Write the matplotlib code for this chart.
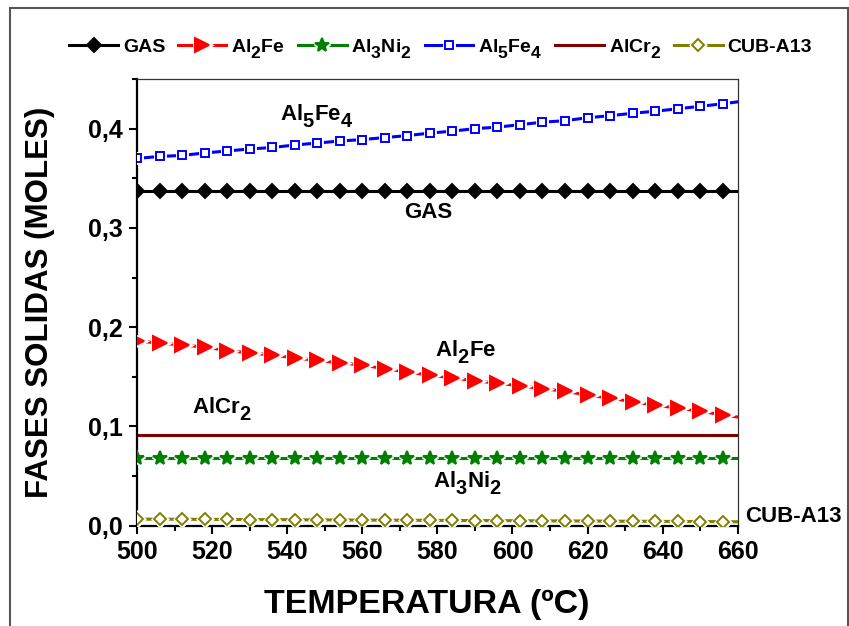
import matplotlib
matplotlib.use("Agg")
import matplotlib.pyplot as plt
import matplotlib._mathtext as mathtext_core
from matplotlib.ticker import MultipleLocator, FuncFormatter
from matplotlib.patches import Rectangle

plt.rcParams['font.family'] = ['Liberation Sans', 'DejaVu Sans']
plt.rcParams['font.weight'] = 'bold'
plt.rcParams['mathtext.fontset'] = 'custom'
plt.rcParams['mathtext.rm'] = 'Liberation Sans:bold'
plt.rcParams['mathtext.it'] = 'Liberation Sans:bold'
plt.rcParams['mathtext.bf'] = 'Liberation Sans:bold'
# near full-size, well dropped subscripts for the formula labels
mathtext_core.SHRINK_FACTOR = 0.9
mathtext_core.FontConstantsBase.sub1 = 0.6

# temperatures (C); every 6 degrees plus the end point
temps = [500, 506, 512, 518, 524, 530, 536, 542, 548, 554, 560, 566, 572, 578,
         584, 590, 596, 602, 608, 614, 620, 626, 632, 638, 644, 650, 656, 660]

gas = [0.337, 0.337, 0.337, 0.337, 0.337, 0.337, 0.337, 0.337, 0.337, 0.337,
       0.337, 0.337, 0.337, 0.337, 0.337, 0.337, 0.337, 0.337, 0.337, 0.337,
       0.337, 0.337, 0.337, 0.337, 0.337, 0.337, 0.337, 0.337]
al2fe = [0.186, 0.184, 0.182, 0.180, 0.1765, 0.174, 0.172, 0.169, 0.1665, 0.164,
         0.162, 0.158, 0.155, 0.1515, 0.149, 0.146, 0.1435, 0.141, 0.138, 0.1355,
         0.1315, 0.1285, 0.125, 0.1215, 0.1185, 0.1155, 0.1115, 0.1095]
al3ni2 = [0.068, 0.068, 0.068, 0.068, 0.068, 0.068, 0.068, 0.068, 0.068, 0.068,
          0.068, 0.068, 0.068, 0.068, 0.068, 0.068, 0.068, 0.068, 0.068, 0.068,
          0.068, 0.068, 0.068, 0.068, 0.068, 0.068, 0.068, 0.068]
al5fe4 = [0.370, 0.372, 0.373, 0.3755, 0.3775, 0.3795, 0.381, 0.3835, 0.3855, 0.3875,
          0.389, 0.391, 0.393, 0.3955, 0.3975, 0.400, 0.4015, 0.404, 0.4065, 0.408,
          0.411, 0.413, 0.4155, 0.4175, 0.420, 0.4225, 0.425, 0.427]
alcr2 = [0.091, 0.091, 0.091, 0.091, 0.091, 0.091, 0.091, 0.091, 0.091, 0.091,
         0.091, 0.091, 0.091, 0.091, 0.091, 0.091, 0.091, 0.091, 0.091, 0.091,
         0.091, 0.091, 0.091, 0.091, 0.091, 0.091, 0.091, 0.091]
cub = [0.0066, 0.0066, 0.0065, 0.0064, 0.0063, 0.0062, 0.0061, 0.0060, 0.0059, 0.0058,
       0.0057, 0.0056, 0.0055, 0.0054, 0.0053, 0.0052, 0.0051, 0.0050, 0.0049, 0.0048,
       0.0047, 0.0046, 0.0045, 0.0044, 0.0043, 0.0042, 0.0041, 0.0040]

fig = plt.figure(figsize=(8.49, 6.26), dpi=100)
ax = fig.add_axes([0.1614, 0.1602, 0.7075, 0.7136])

marks = slice(0, 27)   # no marker on the 660 end point


def series(y, color, marker, ms, mfc, gap=True):
    line, = ax.plot(temps, y, color=color, lw=2.2, zorder=2)
    parts = [line]
    if marker is None:
        return tuple(parts)
    if gap:
        halo, = ax.plot(temps, y, ls='none', marker=marker, ms=ms, markevery=marks,
                        mfc='white', mec='white', mew=3.5, zorder=3)
        parts.append(halo)
    mk, = ax.plot(temps, y, ls='none', marker=marker, ms=ms, markevery=marks,
                  mfc=mfc, mec=color, mew=1.4, zorder=4)
    parts.append(mk)
    return tuple(parts)


h_gas = series(gas, 'black', 'D', 7, 'black', gap=False)
h_al2fe = series(al2fe, 'red', '>', 9.5, 'red')
h_al3ni2 = series(al3ni2, 'green', '*', 10, 'green')
h_al5fe4 = series(al5fe4, 'blue', 's', 6, 'white')
h_alcr2 = series(alcr2, '#800000', None, 0, None)
h_cub = series(cub, '#808000', 'D', 6, 'white')

ax.set_xlim(500, 660)
ax.set_ylim(0, 0.45)
ax.xaxis.set_major_locator(MultipleLocator(20))
ax.xaxis.set_minor_locator(MultipleLocator(10))
ax.yaxis.set_major_locator(MultipleLocator(0.1))
ax.yaxis.set_minor_locator(MultipleLocator(0.05))
ax.yaxis.set_major_formatter(FuncFormatter(lambda v, p: ('%.1f' % v).replace('.', ',')))

ax.tick_params(which='both', direction='out', top=False, right=False, width=1.5,
               labelsize=18)
ax.tick_params(which='major', length=6, pad=4)
ax.tick_params(which='minor', length=3.5)
for s in ['left', 'bottom']:
    ax.spines[s].set_linewidth(1.6)
for s in ['top', 'right']:
    ax.spines[s].set_linewidth(0.9)
    ax.spines[s].set_color('#333333')

ax.set_xlabel('TEMPERATURA (ºC)', fontsize=24.5, fontweight='bold')
ax.set_ylabel('FASES SOLIDAS (MOLES)', fontsize=22.5, fontweight='bold')
ax.xaxis.set_label_coords(0.483, -0.142)
ax.yaxis.set_label_coords(-0.137, 0.5)

# curve labels
lab = dict(fontsize=16, ha='center', va='center')
ax.text(548, 0.412, 'Al$_5$Fe$_4$', **lab)
ax.text(577.5, 0.316, 'GAS', **lab)
ax.text(587.5, 0.175, 'Al$_2$Fe', **lab)
ax.text(522.5, 0.117, 'AlCr$_2$', **lab)
ax.text(588, 0.043, 'Al$_3$Ni$_2$', **lab)
ax.text(662, 0.009, 'CUB-A13', fontsize=16, ha='left', va='center', clip_on=False)

fig.legend([h_gas, h_al2fe, h_al3ni2, h_al5fe4, h_alcr2, h_cub],
           ['GAS', 'Al$_2$Fe', 'Al$_3$Ni$_2$', 'Al$_5$Fe$_4$', 'AlCr$_2$', 'CUB-A13'],
           loc='center', bbox_to_anchor=(0.519, 0.923), ncol=6, frameon=False,
           fontsize=14, handlelength=2.5, handletextpad=0.25, columnspacing=0.65,
           borderaxespad=0)

# outer frame
fig.patches.append(Rectangle((10 / 849, -0.05), 838 / 849, 1.05 - 8 / 626,
                             transform=fig.transFigure, fill=False,
                             edgecolor='#555555', lw=1.5))

fig.savefig('out.png', dpi=100)
